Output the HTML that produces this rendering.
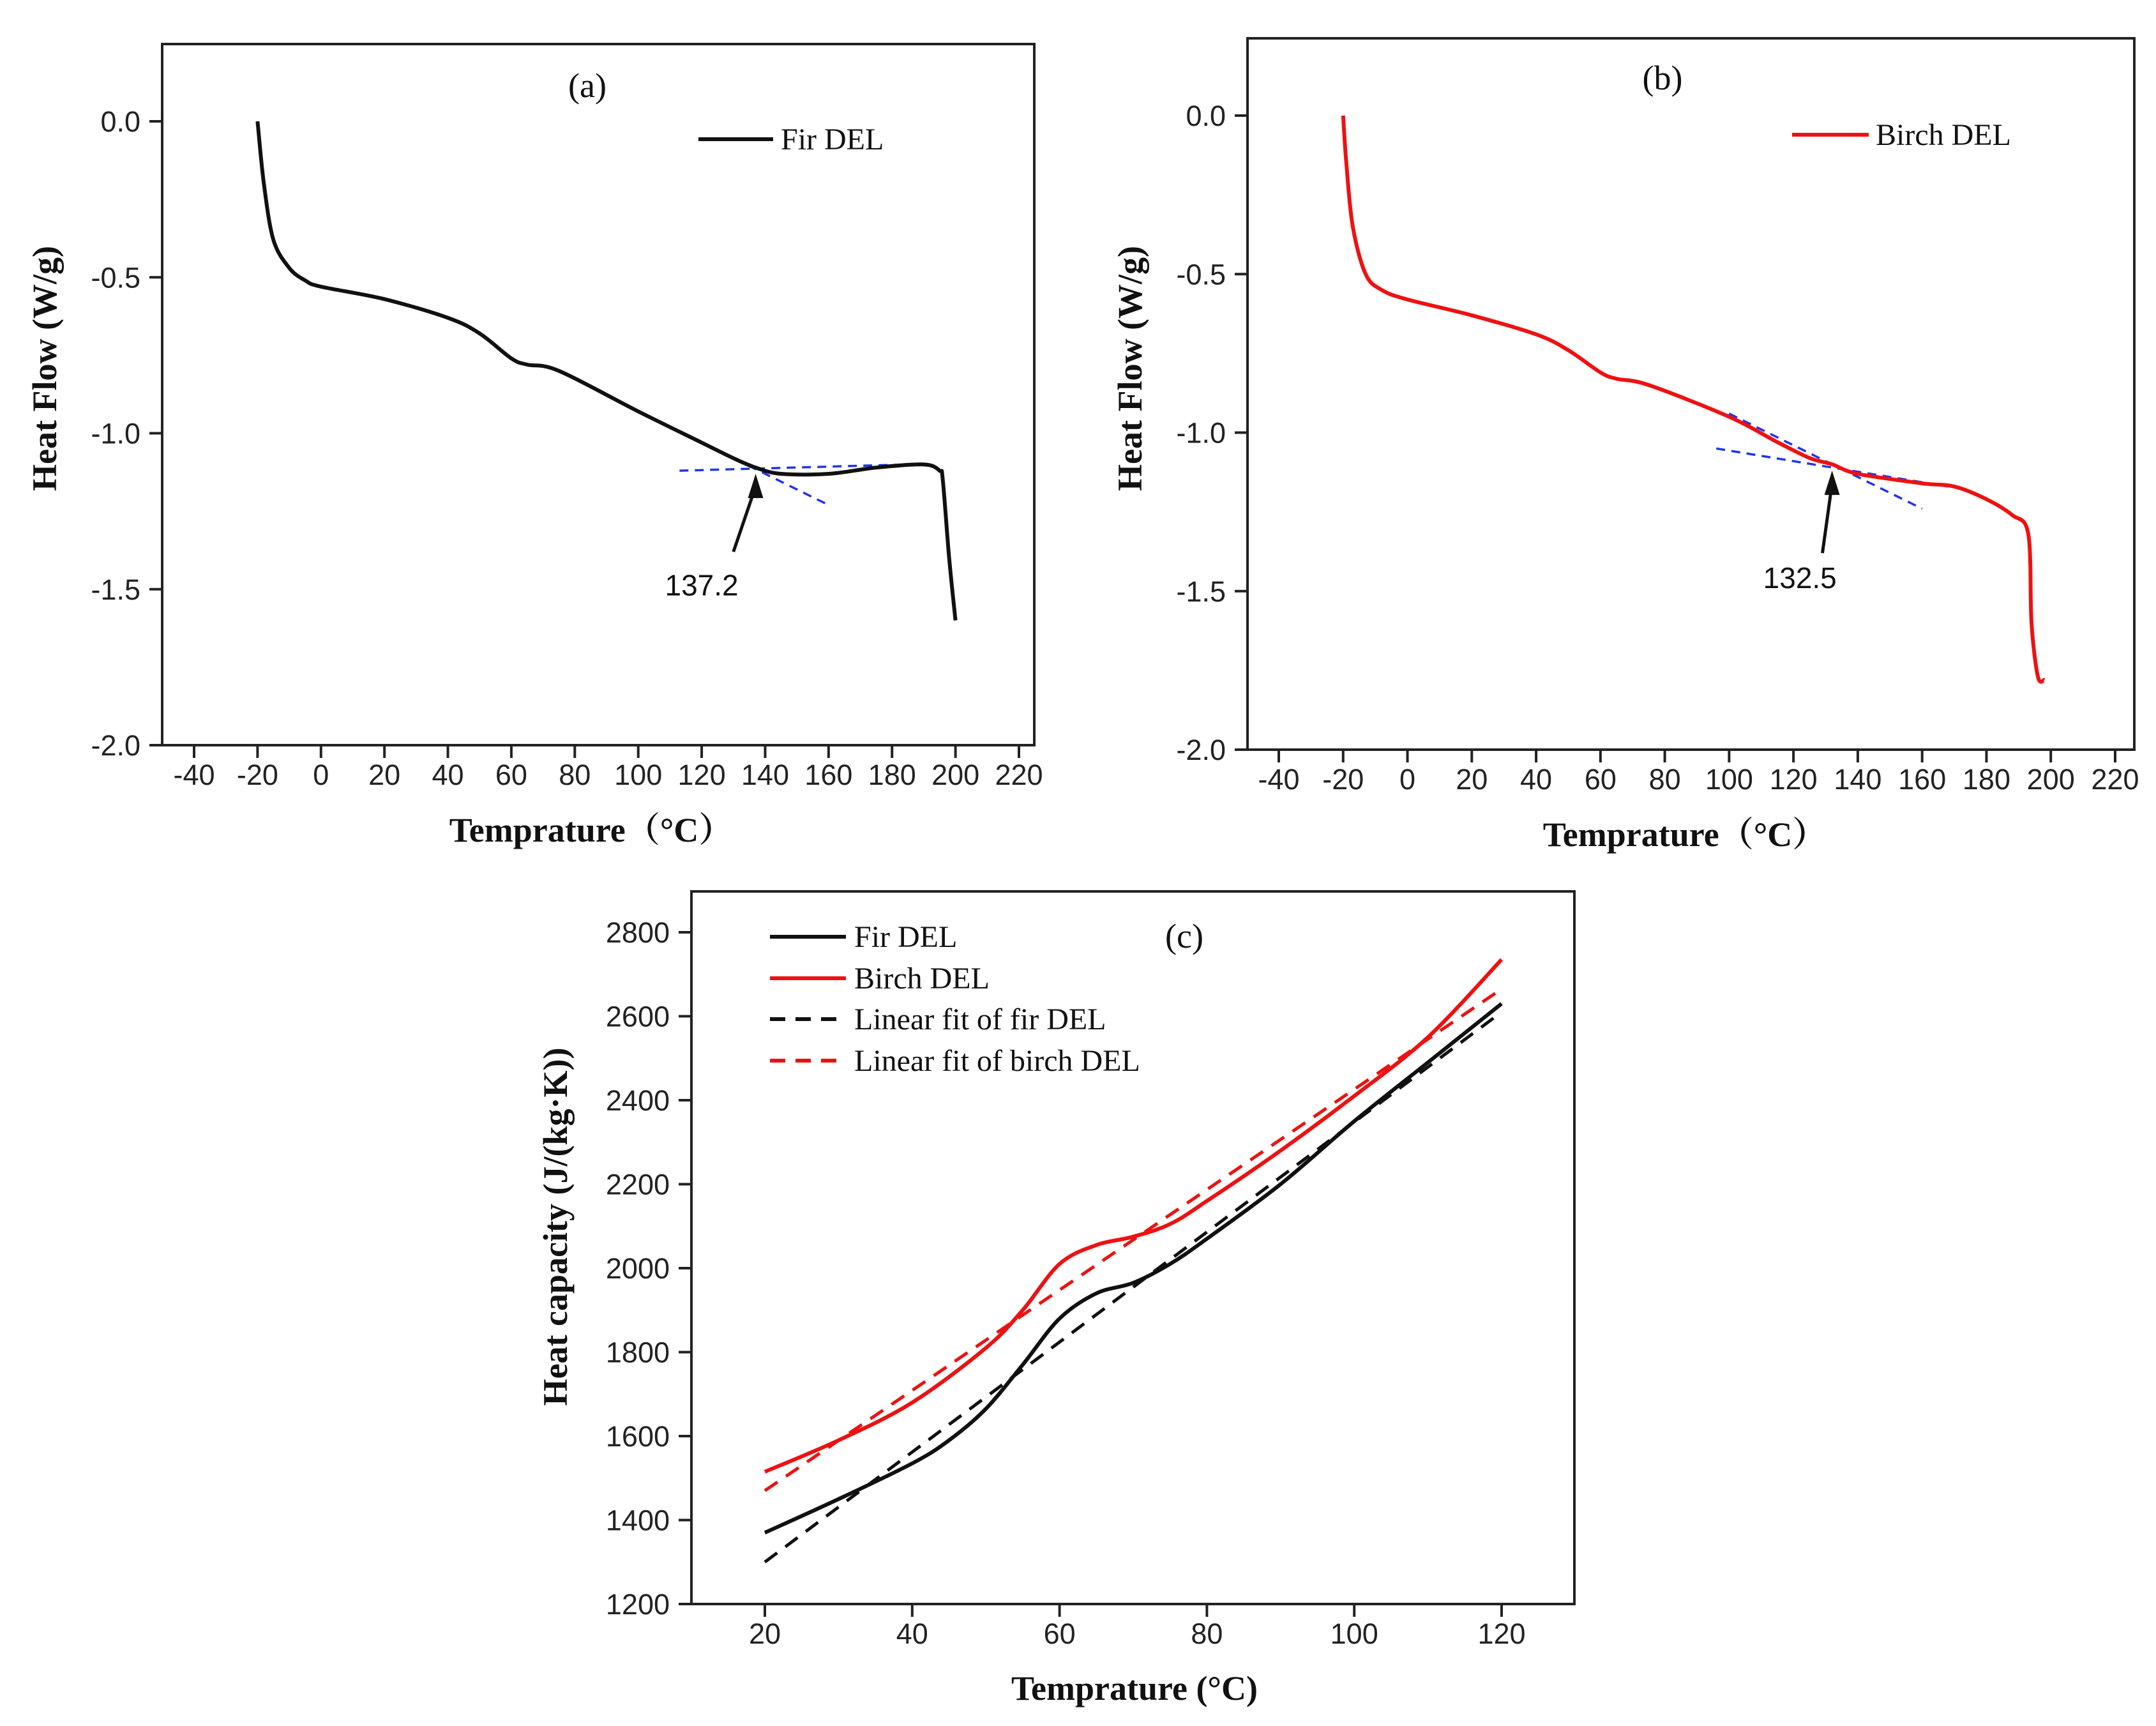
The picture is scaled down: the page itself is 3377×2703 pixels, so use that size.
<!DOCTYPE html>
<html><head><meta charset="utf-8"><style>
body{margin:0;background:#fff}
svg{display:block}
text{font-family:"Liberation Sans",sans-serif}
.serif{font-family:"Liberation Serif","Noto Serif CJK SC",serif}
</style></head><body>
<svg id="fig" width="3377" height="2703" viewBox="0 0 3377 2703" xmlns="http://www.w3.org/2000/svg"></svg>
<script>
// ---- data ----
const firX = [-20,-18,-15,-10,-5,0,20,40,50,60,65,75,100,120,130,137,145,160,175,190,195,196,198,200];
const firY = [0,-0.2,-0.38,-0.47,-0.51,-0.53,-0.57,-0.63,-0.68,-0.76,-0.78,-0.8,-0.93,-1.03,-1.08,-1.11,-1.13,-1.13,-1.11,-1.1,-1.12,-1.15,-1.4,-1.6];
const birchX = [-20,-19,-17,-13,-8,0,20,40,50,60,65,75,100,115,125,132,140,160,170,180,188,193,194,196,198];
const birchY = [0,-0.15,-0.35,-0.5,-0.55,-0.58,-0.63,-0.69,-0.74,-0.81,-0.83,-0.85,-0.95,-1.03,-1.08,-1.1,-1.13,-1.16,-1.17,-1.21,-1.26,-1.32,-1.6,-1.77,-1.78];
const cpX = [20,30,40,45,50,55,60,65,70,75,80,90,100,110,120];
const cpFir = [1370,1450,1535,1590,1665,1770,1880,1940,1965,2010,2070,2200,2350,2490,2630];
const cpBirchX = [20,30,40,50,55,60,65,70,75,80,90,100,110,120];
const cpBirch = [1515,1590,1680,1810,1900,2010,2055,2075,2105,2160,2280,2410,2550,2735];
const fitFirEnds = [1300,2610];
const fitBirchEnds = [1470,2665];
const hfTicksX = [-40,-20,0,20,40,60,80,100,120,140,160,180,200,220];
const hfTicksY = [0,-0.5,-1,-1.5,-2];
const hfTickLabelsY = ["0.0","-0.5","-1.0","-1.5","-2.0"];
const cpTicksX = [20,40,60,80,100,120];
const cpTicksY = [1200,1400,1600,1800,2000,2200,2400,2600,2800];

const svg = document.getElementById('fig');
const NS = 'http://www.w3.org/2000/svg';
function mk(tag, attrs, parent, txt){
  const e = document.createElementNS(NS, tag);
  for (const k in attrs) e.setAttribute(k, attrs[k]);
  if (txt !== undefined) e.textContent = txt;
  (parent||svg).appendChild(e);
  return e;
}
function lin(d0,d1,r0,r1){return v=>r0+(v-d0)*(r1-r0)/(d1-d0);}
function smooth(pts){
  let d = 'M'+pts[0][0]+','+pts[0][1];
  for(let i=0;i<pts.length-1;i++){
    const p0=pts[Math.max(0,i-1)],p1=pts[i],p2=pts[i+1],p3=pts[Math.min(pts.length-1,i+2)];
    const c1=[p1[0]+(p2[0]-p0[0])/6,p1[1]+(p2[1]-p0[1])/6];
    const c2=[p2[0]-(p3[0]-p1[0])/6,p2[1]-(p3[1]-p1[1])/6];
    d+=' C'+c1[0]+','+c1[1]+' '+c2[0]+','+c2[1]+' '+p2[0]+','+p2[1];
  }
  return d;
}

function panel(cfg){
  const g = mk('g',{});
  
  
  const box = mk('rect',{x:cfg.L,y:cfg.T,width:cfg.R-cfg.L,height:cfg.B-cfg.T,fill:'none',stroke:'#222','stroke-width':4},g);
  
  
  cfg.tx.forEach((v,i)=>{
    const x=cfg.sx(v);
    const t = mk('line',{x1:x,y1:cfg.B,x2:x,y2:cfg.B+20,stroke:'#222','stroke-width':4},g);
    
    
    const l = mk('text',{x:x,y:cfg.B+62,'text-anchor':'middle','font-size':45,fill:'#222'},g,String(v));
    
    
  });
  cfg.ty.forEach((v,i)=>{
    const y=cfg.sy(v);
    const t = mk('line',{x1:cfg.L-20,y1:y,x2:cfg.L,y2:y,stroke:'#222','stroke-width':4},g);
    
    
    const l = mk('text',{x:cfg.L-34,y:y+16,'text-anchor':'end','font-size':45,fill:'#222'},g,cfg.tyl?cfg.tyl[i]:String(v));
    
    
  });
  const xt = mk('text',{x:cfg.xtx,y:cfg.xty,'text-anchor':'middle','font-size':54,'font-weight':'bold',class:'serif',fill:'#111'},g,cfg.xtitle);
  
  
  const yt = mk('text',{x:0,y:0,transform:'translate('+cfg.ytx+','+cfg.yty+') rotate(-90)','text-anchor':'middle','font-size':54,'font-weight':'bold',class:'serif',fill:'#111'},g,cfg.ytitle);
  
  
  return g;
}
function curve(g,xs,ys,sx,sy,color,name,dash){
  const pts = xs.map((x,i)=>[sx(x),sy(ys[i])]);
  const p = mk('path',{d:smooth(pts),fill:'none',stroke:color,'stroke-width':6,'stroke-linejoin':'round'},g);
  if(dash) p.setAttribute('stroke-dasharray',dash);
  
  
  return p;
}
function seg(g,x1,y1,x2,y2,color,w,dash,name){
  const l = mk('line',{x1:x1,y1:y1,x2:x2,y2:y2,stroke:color,'stroke-width':w},g);
  if(dash) l.setAttribute('stroke-dasharray',dash);
  
  
  return l;
}
function arrow(g,x1,y1,x2,y2){
  seg(g,x1,y1,x2,y2+20,'#111',5,null,'annotation-arrow');
  const h = mk('polygon',{points:(x2)+','+(y2)+' '+(x2-12)+','+(y2+38)+' '+(x2+12)+','+(y2+38),fill:'#111'},g);
  
  
}
function label(g,x,y,txt,size,name,anchor,cls){
  const t = mk('text',{x:x,y:y,'font-size':size,'text-anchor':anchor||'start',fill:'#111'},g,txt);
  if(cls) t.setAttribute('class',cls);
  
  
}

// Panel a
{
  const sx=lin(-40,220,304,1596), sy=lin(0,-2,190,1167);
  const g=panel({name:'panel-a',L:254,T:69,R:1620,B:1167,sx,sy,tx:hfTicksX,ty:hfTicksY,tyl:hfTickLabelsY,
    xtitle:'Temprature（°C）',xtx:926,xty:1318,ytitle:'Heat Flow (W/g)',ytx:88,yty:577});
  seg(g,sx(100),sy(-0.93),sx(160),sy(-1.23),'#2233ee',3.5,'14 10','tangent-line');
  seg(g,sx(113),sy(-1.12),sx(185),sy(-1.1),'#2233ee',3.5,'14 10','baseline-line');
  curve(g,firX,firY,sx,sy,'#111','fir-del-curve');
  arrow(g,sx(130),sy(-1.38),sx(137),sy(-1.13));
  label(g,sx(120),sy(-1.52),'137.2',46,'onset-label','middle');
  label(g,920,152,'(a)',54,'panel-label','middle','serif');
  seg(g,1094,218,1211,218,'#111',6,null,'legend-line');
  label(g,1223,234,'Fir DEL',48,'legend-entry','start','serif');
}
// Panel b
{
  const sx=lin(-40,220,2003,3313), sy=lin(0,-2,181,1174);
  const g=panel({name:'panel-b',L:1954,T:60,R:3343,B:1174,sx,sy,tx:hfTicksX,ty:hfTicksY,tyl:hfTickLabelsY,
    xtitle:'Temprature（°C）',xtx:2639,xty:1325,ytitle:'Heat Flow (W/g)',ytx:1788,yty:577});
  seg(g,sx(100),sy(-0.94),sx(160),sy(-1.24),'#2233ee',3.5,'14 10','tangent-line');
  seg(g,sx(96),sy(-1.05),sx(168),sy(-1.17),'#2233ee',3.5,'14 10','baseline-line');
  curve(g,birchX,birchY,sx,sy,'#ee1111','birch-del-curve');
  arrow(g,sx(129),sy(-1.38),sx(132),sy(-1.12));
  label(g,sx(122),sy(-1.49),'132.5',46,'onset-label','middle');
  label(g,2604,140,'(b)',54,'panel-label','middle','serif');
  seg(g,2807,211,2927,211,'#ee1111',6,null,'legend-line');
  label(g,2938,227,'Birch DEL',48,'legend-entry','start','serif');
}
// Panel c
{
  const sx=lin(20,120,1198,2352), sy=lin(1200,2800,2512,1460);
  const g=panel({name:'panel-c',L:1083,T:1396,R:2466,B:2512,sx,sy,tx:cpTicksX,ty:cpTicksY,
    xtitle:'Temprature (°C)',xtx:1777,xty:2662,ytitle:'Heat capacity (J/(kg·K))',ytx:888,yty:1921});
  curve(g,cpX,cpFir,sx,sy,'#111','fir-del-curve');
  curve(g,cpBirchX,cpBirch,sx,sy,'#ee1111','birch-del-curve');
  seg(g,sx(20),sy(fitFirEnds[0]),sx(120),sy(fitFirEnds[1]),'#111',5,'24 16','fir-linear-fit');
  seg(g,sx(20),sy(fitBirchEnds[0]),sx(120),sy(fitBirchEnds[1]),'#ee1111',5,'24 16','birch-linear-fit');
  label(g,1855,1484,'(c)',54,'panel-label','middle','serif');
  const leg=[['Fir DEL','#111',null],['Birch DEL','#ee1111',null],['Linear fit of fir DEL','#111','24 16'],['Linear fit of birch DEL','#ee1111','24 16']];
  const ly=[1467,1532,1596,1661];
  leg.forEach((e,i)=>{
    seg(g,1206,ly[i],1325,ly[i],e[1],6,e[2],'legend-line');
    label(g,1338,ly[i]+16,e[0],48,'legend-entry','start','serif');
  });
}
</script>
</body></html>
